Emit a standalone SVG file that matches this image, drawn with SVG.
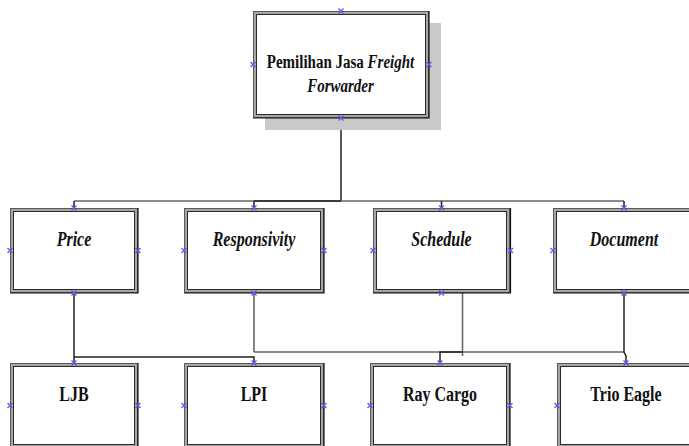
<svg xmlns="http://www.w3.org/2000/svg" width="689" height="446" viewBox="0 0 689 446">
<style>
.band{fill:#fff;stroke:#a6a6a6;stroke-width:3}
.outer{fill:none;stroke:#5a5a5a;stroke-width:1}
.inner{fill:none;stroke:#2a2a2a;stroke-width:1}
.br{fill:none;stroke:#111;stroke-width:1.2}
.shadow{fill:#c9c9c9}
.t{font-family:"Liberation Serif","Times New Roman",serif;font-weight:bold;font-size:16px;fill:#111;text-anchor:middle}
.tt{font-size:15px}
.i{font-style:italic}
.mk{stroke:#5b5bf0;stroke-width:1.3;fill:none}
.c{fill:none;stroke:#222;stroke-width:1.5}
.g{fill:none;stroke:#666;stroke-width:1.6}
</style>
<defs>
<path id="x" class="mk" d="M-2.5,-2.5L2.5,2.5M-2.5,2.5L2.5,-2.5"/>
</defs>
<rect width="689" height="446" fill="#fff"/>

<g id="connectors">
<path class="c" d="M341,118V201" stroke-width="2"/>
<path class="g" d="M74,201H624"/>
<path class="c" d="M254,201H341"/>
<path class="c" d="M74,201V208M254,201V208M441.5,201V208M624,201V208" stroke-width="1.2"/>
<path class="c" d="M74,293V363"/>
<path class="c" d="M74,357H254V363"/>
<path class="g" d="M254,293V352"/>
<path class="g" d="M254,352H624"/>
<path class="g" d="M462.5,293V356"/>
<path class="c" d="M462.5,352H440V363"/>
<path class="c" d="M624,293V352L626,356V363" stroke-width="1.2"/>
</g>

<g id="node-root">
<rect class="shadow" x="265" y="23" width="176" height="107"/>
<rect class="band" x="254.5" y="12.5" width="173" height="104"/>
<rect class="outer" x="253.5" y="11.5" width="175" height="106"/>
<rect class="inner" x="256.5" y="14.5" width="169" height="100"/>
<path class="br" d="M429,11V118H253"/>
<text class="t tt" transform="translate(340.5,68.3) scale(1,1.22)">Pemilihan Jasa <tspan class="i">Freight</tspan></text>
<text class="t tt i" transform="translate(340.5,91.7) scale(1,1.22)">Forwarder</text>
<use href="#x" x="341" y="11"/><use href="#x" x="253" y="64.5"/><use href="#x" x="429" y="64.5"/><use href="#x" x="341" y="118"/>
</g>

<g id="node-price">
<rect class="band" x="11.5" y="209.5" width="125" height="82"/>
<rect class="outer" x="10.5" y="208.5" width="127" height="84"/>
<rect class="inner" x="13.5" y="211.5" width="121" height="78"/>
<path class="br" d="M138,208V293H10"/>
<text class="t i" transform="translate(74,245.6) scale(1,1.25)">Price</text>
<use href="#x" x="74" y="208"/><use href="#x" x="10" y="250.5"/><use href="#x" x="138" y="250.5"/><use href="#x" x="74" y="293"/>
</g>

<g id="node-responsivity">
<rect class="band" x="185.5" y="209.5" width="137" height="82"/>
<rect class="outer" x="184.5" y="208.5" width="139" height="84"/>
<rect class="inner" x="187.5" y="211.5" width="133" height="78"/>
<path class="br" d="M324,208V293H184"/>
<text class="t i" transform="translate(254,245.6) scale(1,1.25)">Responsivity</text>
<use href="#x" x="254" y="208"/><use href="#x" x="184" y="250.5"/><use href="#x" x="324" y="250.5"/><use href="#x" x="254" y="293"/>
</g>

<g id="node-schedule">
<rect class="band" x="374.5" y="209.5" width="134" height="82"/>
<rect class="outer" x="373.5" y="208.5" width="136" height="84"/>
<rect class="inner" x="376.5" y="211.5" width="130" height="78"/>
<path class="br" d="M510.5,208V293H373"/>
<text class="t i" transform="translate(441.5,245.6) scale(1,1.25)">Schedule</text>
<use href="#x" x="441.5" y="208"/><use href="#x" x="373" y="250.5"/><use href="#x" x="510.5" y="250.5"/><use href="#x" x="441.5" y="293"/>
</g>

<g id="node-document">
<rect class="band" x="554.5" y="209.5" width="139" height="82"/>
<rect class="outer" x="553.5" y="208.5" width="141" height="84"/>
<rect class="inner" x="556.5" y="211.5" width="135" height="78"/>
<path class="br" d="M553,293H695"/>
<text class="t i" transform="translate(624,245.6) scale(1,1.25)">Document</text>
<use href="#x" x="624" y="208"/><use href="#x" x="553" y="250.5"/><use href="#x" x="624" y="293"/>
</g>

<g id="node-ljb">
<rect class="band" x="11.5" y="364.5" width="125" height="82"/>
<rect class="outer" x="10.5" y="363.5" width="127" height="84"/>
<rect class="inner" x="13.5" y="366.5" width="121" height="78"/>
<path class="br" d="M138,363V448"/>
<text class="t" transform="translate(74,400.5) scale(1,1.25)">LJB</text>
<use href="#x" x="74" y="363"/><use href="#x" x="10" y="405.5"/><use href="#x" x="138" y="405.5"/>
</g>

<g id="node-lpi">
<rect class="band" x="185.5" y="364.5" width="137" height="82"/>
<rect class="outer" x="184.5" y="363.5" width="139" height="84"/>
<rect class="inner" x="187.5" y="366.5" width="133" height="78"/>
<path class="br" d="M324,363V448"/>
<text class="t" transform="translate(254,400.5) scale(1,1.25)">LPI</text>
<use href="#x" x="254" y="363"/><use href="#x" x="184" y="405.5"/><use href="#x" x="324" y="405.5"/>
</g>

<g id="node-raycargo">
<rect class="band" x="371.5" y="364.5" width="137" height="82"/>
<rect class="outer" x="370.5" y="363.5" width="139" height="84"/>
<rect class="inner" x="373.5" y="366.5" width="133" height="78"/>
<path class="br" d="M510,363V448"/>
<text class="t" transform="translate(440,400.5) scale(1,1.25)">Ray Cargo</text>
<use href="#x" x="440" y="363"/><use href="#x" x="370" y="405.5"/><use href="#x" x="510" y="405.5"/>
</g>

<g id="node-trioeagle">
<rect class="band" x="558.5" y="364.5" width="135" height="82"/>
<rect class="outer" x="557.5" y="363.5" width="137" height="84"/>
<rect class="inner" x="560.5" y="366.5" width="131" height="78"/>
<text class="t" transform="translate(626,400.5) scale(1,1.25)">Trio Eagle</text>
<use href="#x" x="626" y="363"/><use href="#x" x="557" y="405.5"/>
</g>
</svg>
